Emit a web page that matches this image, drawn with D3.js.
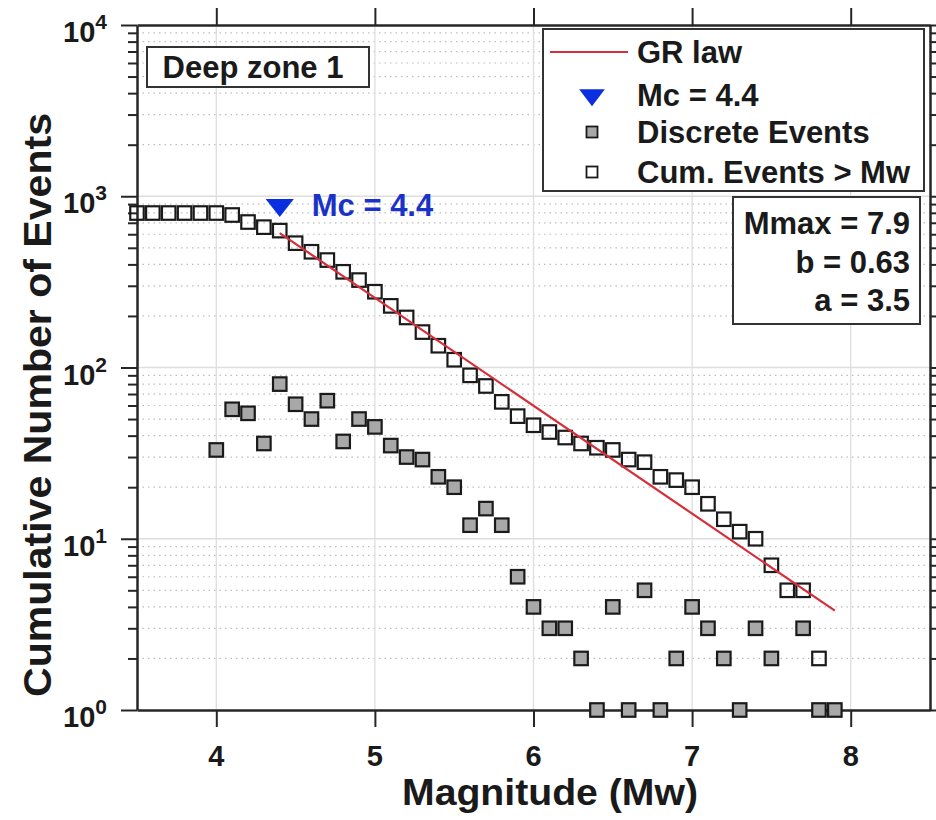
<!DOCTYPE html>
<html>
<head>
<meta charset="utf-8">
<script src="https://cdn.jsdelivr.net/npm/d3@7"></script>
<style>
  body { margin: 0; background: #fff; }
  svg { display: block; }
  text { font-family: "Liberation Sans", Arial, Helvetica, sans-serif; font-weight: bold; fill: #1a1a1a; }
</style>
</head>
<body>
<svg id="chart" width="936" height="820"></svg>
<script>
// Magnitude bins and counts per bin (events in each 0.1 Mw bin)
const discreteMag   = [4.0, 4.1, 4.2, 4.3, 4.4, 4.5, 4.6, 4.7, 4.8, 4.9,
                       5.0, 5.1, 5.2, 5.3, 5.4, 5.5, 5.6, 5.7, 5.8, 5.9,
                       6.0, 6.1, 6.2, 6.3, 6.4, 6.5, 6.6, 6.7, 6.8, 6.9,
                       7.0, 7.1, 7.2, 7.3, 7.4, 7.5, 7.7, 7.8, 7.9];
const discreteCount = [33, 57, 54, 36, 80, 61, 50, 64, 37, 50,
                       45, 35, 30, 29, 23, 20, 12, 15, 12, 6,
                       4, 3, 3, 2, 1, 4, 1, 5, 1, 2,
                       4, 3, 2, 1, 3, 2, 3, 1, 1];

// Cumulative number of events at or above each magnitude
const cumMag   = [3.5, 3.6, 3.7, 3.8, 3.9, 4.0, 4.1, 4.2, 4.3, 4.4,
                  4.5, 4.6, 4.7, 4.8, 4.9, 5.0, 5.1, 5.2, 5.3, 5.4,
                  5.5, 5.6, 5.7, 5.8, 5.9, 6.0, 6.1, 6.2, 6.3, 6.4,
                  6.5, 6.6, 6.7, 6.8, 6.9, 7.0, 7.1, 7.2, 7.3, 7.4,
                  7.5, 7.6, 7.7, 7.8];
const cumCount = [798, 798, 798, 798, 798, 798, 777, 707, 660, 630,
                  532, 474, 424, 362, 324, 277, 229, 196, 161, 134,
                  111, 90, 78, 63, 52, 46, 42, 39, 36, 34,
                  33, 29, 28, 23, 22, 20, 16, 13, 11, 10,
                  7, 5, 5, 2];

// Gutenberg-Richter fit (annual a-value, scaled to the catalogue length)
const mc = 4.4;
const mcMarkerCount = 890;
const mMax = 7.9;
const bValue = 0.63;
const aValue = 3.5;
const catalogYears = 114;

const xTicks = [4, 5, 6, 7, 8];
const yDecades = [0, 1, 2, 3, 4];
const legendLabels = ["GR law", "Mc = 4.4", "Discrete Events", "Cum. Events > Mw"];
const statsLines = ["Mmax = 7.9", "b = 0.63", "a = 3.5"];
const zoneLabel = "Deep zone 1";

const svg = d3.select("#chart");
const W = 936, H = 820;
const plot = { left: 137, right: 930, top: 25, bottom: 710 };
const axisColor = "#262626";
const textSize = 31;

const x = d3.scaleLinear().domain([3.5, 8.5]).range([plot.left, plot.right]);
const y = d3.scaleLog().domain([1, 1e4]).range([plot.bottom, plot.top]);

svg.append("rect").attr("width", W).attr("height", H).attr("fill", "#fff");

// minor grid (dotted) at 2..9 of each decade
const minorVals = [];
for (let d = 0; d < 4; d++) for (let k = 2; k <= 9; k++) minorVals.push(k * Math.pow(10, d));
const grid = svg.append("g");
grid.selectAll(".minor").data(minorVals).join("line")
  .attr("x1", plot.left).attr("x2", plot.right)
  .attr("y1", d => y(d)).attr("y2", d => y(d))
  .attr("stroke", "#bdbdbd").attr("stroke-width", 1.2)
  .attr("stroke-dasharray", "1.5,4");
grid.selectAll(".majy").data(yDecades.slice(1, -1)).join("line")
  .attr("x1", plot.left).attr("x2", plot.right)
  .attr("y1", d => y(Math.pow(10, d))).attr("y2", d => y(Math.pow(10, d)))
  .attr("stroke", "#dedede").attr("stroke-width", 1.3);
grid.selectAll(".majx").data(xTicks).join("line")
  .attr("x1", d => x(d)).attr("x2", d => x(d))
  .attr("y1", plot.top).attr("y2", plot.bottom)
  .attr("stroke", "#dedede").attr("stroke-width", 1.3);

// axes with outward ticks on all four sides
const yTickVals = yDecades.map(d => Math.pow(10, d)).concat(minorVals);
const isMajor = v => Math.abs(Math.log10(v) - Math.round(Math.log10(v))) < 1e-9;

const gL = svg.append("g").attr("transform", `translate(${plot.left},0)`)
  .call(d3.axisLeft(y).tickValues(yTickVals).tickFormat("").tickSizeInner(0).tickSizeOuter(0));
gL.selectAll(".tick line").attr("x2", d => isMajor(d) ? -16 : -9);
const gR = svg.append("g").attr("transform", `translate(${plot.right},0)`)
  .call(d3.axisRight(y).tickValues(yTickVals).tickFormat("").tickSizeInner(0).tickSizeOuter(0));
gR.selectAll(".tick line").attr("x2", d => isMajor(d) ? 16 : 9);

const gB = svg.append("g").attr("transform", `translate(0,${plot.bottom})`)
  .call(d3.axisBottom(x).tickValues(xTicks).tickFormat("").tickSizeInner(17).tickSizeOuter(0));
const gT = svg.append("g").attr("transform", `translate(0,${plot.top})`)
  .call(d3.axisTop(x).tickValues(xTicks).tickFormat("").tickSizeInner(17).tickSizeOuter(0));
[gL, gR, gB, gT].forEach(g => {
  g.select(".domain").attr("stroke", axisColor).attr("stroke-width", 2.5);
  g.selectAll(".tick line").attr("stroke", axisColor).attr("stroke-width", 2);
});

// tick labels
svg.append("g").selectAll("text").data(xTicks).join("text")
  .attr("x", d => x(d)).attr("y", 766)
  .attr("text-anchor", "middle").attr("font-size", 29)
  .text(d => d);
const yl = svg.append("g").selectAll("text").data(yDecades).join("text")
  .attr("x", 107).attr("y", d => y(Math.pow(10, d)) + 17)
  .attr("text-anchor", "end").attr("font-size", 29);
yl.append("tspan").text("10");
yl.append("tspan").attr("dy", -13).attr("font-size", 21).text(d => d);

// axis titles
svg.append("text").attr("x", 550).attr("y", 805)
  .attr("text-anchor", "middle").attr("font-size", 36)
  .attr("textLength", 296).attr("lengthAdjust", "spacingAndGlyphs")
  .text("Magnitude (Mw)");
svg.append("text").attr("transform", `translate(51,405) rotate(-90)`)
  .attr("text-anchor", "middle").attr("font-size", 38)
  .attr("textLength", 584).attr("lengthAdjust", "spacingAndGlyphs")
  .text("Cumulative Number of Events");

// data markers
const sq = 13.5;
const mk = svg.append("g");
mk.selectAll(".cum").data(cumMag).join("rect")
  .attr("x", (d) => x(d) - sq / 2)
  .attr("y", (d, i) => y(cumCount[i]) - sq / 2)
  .attr("width", sq).attr("height", sq)
  .attr("fill", "none").attr("stroke", "#1a1a1a").attr("stroke-width", 2.2);
mk.selectAll(".disc").data(discreteMag).join("rect")
  .attr("x", (d) => x(d) - sq / 2)
  .attr("y", (d, i) => y(discreteCount[i]) - sq / 2)
  .attr("width", sq).attr("height", sq)
  .attr("fill", "#a8a8a8").attr("stroke", "#1a1a1a").attr("stroke-width", 2.2);

// GR law line from Mc to Mmax
const grN = m => Math.pow(10, aValue + Math.log10(catalogYears) - bValue * m);
const grMags = [mc, mMax];
svg.append("path")
  .attr("d", d3.line().x(d => x(d)).y(d => y(grN(d)))(grMags))
  .attr("stroke", "#d42f3b").attr("stroke-width", 2.2).attr("fill", "none");

// magnitude of completeness marker + label
const tri = d3.symbol().type(d3.symbolTriangle).size(260);
svg.append("path").attr("d", tri())
  .attr("transform", `translate(${x(mc)},${y(mcMarkerCount)}) rotate(180) scale(1.15,0.85)`)
  .attr("fill", "#0a2fe0");
svg.append("text").attr("x", x(mc) + 32).attr("y", y(mcMarkerCount) + 11)
  .attr("font-size", textSize).style("fill", "#1a32c8").text("Mc = " + mc);

// zone label box
svg.append("rect").attr("x", 147).attr("y", 47).attr("width", 222).attr("height", 40)
  .attr("fill", "#fff").attr("stroke", "#333").attr("stroke-width", 2);
svg.append("text").attr("x", 253).attr("y", 78).attr("text-anchor", "middle")
  .attr("font-size", textSize).text(zoneLabel);

// legend
const lg = svg.append("g");
lg.append("rect").attr("x", 543).attr("y", 29).attr("width", 381).attr("height", 162)
  .attr("fill", "#fff").attr("stroke", "#333").attr("stroke-width", 2);
const rowY = [52, 95, 132, 172];
lg.selectAll("text").data(legendLabels).join("text")
  .attr("x", 637).attr("y", (d, i) => rowY[i] + 11).attr("font-size", textSize).text(d => d);
lg.append("line").attr("x1", 550).attr("x2", 628).attr("y1", rowY[0]).attr("y2", rowY[0])
  .attr("stroke", "#d42f3b").attr("stroke-width", 2.2);
lg.append("path").attr("d", tri())
  .attr("transform", `translate(592,${rowY[1]}) rotate(180) scale(1.05,0.8)`).attr("fill", "#0a2fe0");
const lsq = 11;
lg.append("rect").attr("x", 592 - lsq / 2).attr("y", rowY[2] - lsq / 2).attr("width", lsq).attr("height", lsq)
  .attr("fill", "#a8a8a8").attr("stroke", "#1a1a1a").attr("stroke-width", 1.8);
lg.append("rect").attr("x", 592 - lsq / 2).attr("y", rowY[3] - lsq / 2).attr("width", lsq).attr("height", lsq)
  .attr("fill", "#fff").attr("stroke", "#1a1a1a").attr("stroke-width", 1.8);

// fit statistics box
const st = svg.append("g");
st.append("rect").attr("x", 733).attr("y", 197).attr("width", 187).attr("height", 127)
  .attr("fill", "#fff").attr("stroke", "#333").attr("stroke-width", 2);
st.selectAll("text").data(statsLines).join("text")
  .attr("x", 910).attr("y", (d, i) => 234 + i * 38.5).attr("text-anchor", "end")
  .attr("font-size", textSize).text(d => d);
</script>
</body>
</html>
